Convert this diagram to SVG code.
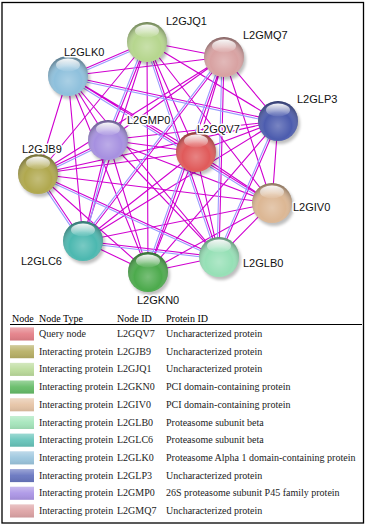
<svg xmlns="http://www.w3.org/2000/svg" width="368" height="529" viewBox="0 0 368 529">
<defs>
<style>
.e{stroke:#d000d0;stroke-width:1.1;fill:none}
.b{stroke:#9a9aff;stroke-width:1.1;fill:none}
.lbl{font-family:"Liberation Sans",Arial,sans-serif;font-size:11px;fill:#111;stroke:#fff;stroke-width:3;stroke-linejoin:round;paint-order:stroke fill}
.t{font-family:"Liberation Serif","Times New Roman",serif;font-size:10px;fill:#222}
.h{font-family:"Liberation Serif","Times New Roman",serif;font-size:10px;fill:#000}
.shade{fill:url(#shade)}
.hi{fill:url(#hi)}
.sh{fill:#000;opacity:0.25;filter:url(#blur)}
.sw{fill:url(#swg)}
</style>
<radialGradient id="shade" cx="0.5" cy="0.62" r="0.62">
<stop offset="0" stop-color="#fff" stop-opacity="0.25"/>
<stop offset="0.55" stop-color="#fff" stop-opacity="0"/>
<stop offset="1" stop-color="#000" stop-opacity="0.42"/>
</radialGradient>
<linearGradient id="hi" x1="0" y1="0" x2="0" y2="1">
<stop offset="0" stop-color="#fff" stop-opacity="0.95"/>
<stop offset="1" stop-color="#fff" stop-opacity="0.05"/>
</linearGradient>
<linearGradient id="swg" x1="0" y1="0" x2="0" y2="1">
<stop offset="0" stop-color="#fff" stop-opacity="0.35"/>
<stop offset="0.5" stop-color="#fff" stop-opacity="0.05"/>
<stop offset="1" stop-color="#000" stop-opacity="0.08"/>
</linearGradient>
<filter id="blur" x="-50%" y="-50%" width="200%" height="200%"><feGaussianBlur stdDeviation="1.5"/></filter>
</defs>
<rect x="2" y="2.5" width="361.5" height="520.5" fill="#fff" stroke="#000" stroke-width="1.3"/>
<g id="connectors">
<path class="e" d="M147,42L224,57M147,42L68,76M147,42L278,121M147,42L108,140M147,42L196,152M147,42L38,174M147,42L272,203M147,42L83,241M147,42L148,272M147,42L219,257"/>
<path class="e" d="M224,57L68,76M224,57L278,121M224,57L108,140M224,57L196,152M224,57L38,174M224,57L272,203M224,57L83,241M224,57L148,272M224,57L219,257"/>
<path class="e" d="M68,76L278,121M68,76L108,140M68,76L196,152M68,76L38,174M68,76L272,203M68,76L83,241M68,76L148,272M68,76L219,257"/>
<path class="e" d="M278,121L108,140M278,121L196,152M278,121L38,174M278,121L272,203M278,121L83,241M278,121L148,272M278,121L219,257"/>
<path class="e" d="M108,140L196,152M108,140L38,174M108,140L272,203M108,140L83,241M108,140L148,272M108,140L219,257"/>
<path class="e" d="M196,152L38,174M196,152L272,203M196,152L83,241M196,152L148,272M196,152L219,257"/>
<path class="e" d="M38,174L272,203M38,174L83,241M38,174L148,272M38,174L219,257"/>
<path class="e" d="M272,203L83,241M272,203L148,272M272,203L219,257"/>
<path class="e" d="M83,241L148,272M83,241L219,257M148,272L219,257"/>
<path class="b" d="M68.8,77.8L147.8,43.8M67.6,78L277.6,123M66.9,77.7L270.9,204.7M145.1,42.6L217.1,257.6M145.1,41.3L106.1,139.3M222,57L217,257M222.4,55.8L81.4,239.8M222.1,56.3L146.1,271.3M276.2,120.2L217.2,256.2M38.9,175.8L108.9,141.8M36.3,175.1L81.3,242.1M37.2,175.8L218.2,258.8M82.8,243L218.8,259M84.9,241.5L109.9,140.5"/>
</g>
<g id="L2GJQ1"><circle class="sh" cx="149" cy="45" r="20"/><circle cx="147" cy="42" r="20" fill="#b6d68e"/><circle class="shade" cx="147" cy="42" r="20"/><ellipse class="hi" cx="147" cy="31" rx="12" ry="6.5"/><text class="lbl" x="166" y="25">L2GJQ1</text></g>
<g id="L2GMQ7"><circle class="sh" cx="226" cy="60" r="20"/><circle cx="224" cy="57" r="20" fill="#d8a2a2"/><circle class="shade" cx="224" cy="57" r="20"/><ellipse class="hi" cx="224" cy="46" rx="12" ry="6.5"/><text class="lbl" x="243" y="39">L2GMQ7</text></g>
<g id="L2GLK0"><circle class="sh" cx="70" cy="79" r="20"/><circle cx="68" cy="76" r="20" fill="#8ec0dc"/><circle class="shade" cx="68" cy="76" r="20"/><ellipse class="hi" cx="68" cy="65" rx="12" ry="6.5"/><text class="lbl" x="64" y="56">L2GLK0</text></g>
<g id="L2GLP3"><circle class="sh" cx="280" cy="124" r="20"/><circle cx="278" cy="121" r="20" fill="#4c5cae"/><circle class="shade" cx="278" cy="121" r="20"/><ellipse class="hi" cx="278" cy="110" rx="12" ry="6.5"/><text class="lbl" x="297" y="103">L2GLP3</text></g>
<g id="L2GMP0"><circle class="sh" cx="110" cy="143" r="20"/><circle cx="108" cy="140" r="20" fill="#a690e0"/><circle class="shade" cx="108" cy="140" r="20"/><ellipse class="hi" cx="108" cy="129" rx="12" ry="6.5"/><text class="lbl" x="127" y="124">L2GMP0</text></g>
<g id="L2GQV7"><circle class="sh" cx="198" cy="155" r="20"/><circle cx="196" cy="152" r="20" fill="#e05a5a"/><circle class="shade" cx="196" cy="152" r="20"/><ellipse class="hi" cx="196" cy="141" rx="12" ry="6.5"/><text class="lbl" x="197" y="133">L2GQV7</text></g>
<g id="L2GJB9"><circle class="sh" cx="40" cy="177" r="20"/><circle cx="38" cy="174" r="20" fill="#b0a84e"/><circle class="shade" cx="38" cy="174" r="20"/><ellipse class="hi" cx="38" cy="163" rx="12" ry="6.5"/><text class="lbl" x="22" y="153">L2GJB9</text></g>
<g id="L2GIV0"><circle class="sh" cx="274" cy="206" r="20"/><circle cx="272" cy="203" r="20" fill="#dcb794"/><circle class="shade" cx="272" cy="203" r="20"/><ellipse class="hi" cx="272" cy="192" rx="12" ry="6.5"/><text class="lbl" x="293" y="211">L2GIV0</text></g>
<g id="L2GLC6"><circle class="sh" cx="85" cy="244" r="20"/><circle cx="83" cy="241" r="20" fill="#4cb8b0"/><circle class="shade" cx="83" cy="241" r="20"/><ellipse class="hi" cx="83" cy="230" rx="12" ry="6.5"/><text class="lbl" x="21" y="265">L2GLC6</text></g>
<g id="L2GKN0"><circle class="sh" cx="150" cy="275" r="20"/><circle cx="148" cy="272" r="20" fill="#4caa4c"/><circle class="shade" cx="148" cy="272" r="20"/><ellipse class="hi" cx="148" cy="261" rx="12" ry="6.5"/><text class="lbl" x="137" y="304">L2GKN0</text></g>
<g id="L2GLB0"><circle class="sh" cx="221" cy="260" r="20"/><circle cx="219" cy="257" r="20" fill="#96e0b6"/><circle class="shade" cx="219" cy="257" r="20"/><ellipse class="hi" cx="219" cy="246" rx="12" ry="6.5"/><text class="lbl" x="243" y="267">L2GLB0</text></g>
<g id="table">
<text class="h" x="12" y="322">Node</text><text class="h" x="39" y="322">Node Type</text><text class="h" x="117" y="322">Node ID</text><text class="h" x="166" y="322">Protein ID</text>
<line x1="10" y1="324.5" x2="362" y2="324.5" stroke="#000" stroke-width="1"/>
<rect x="10" y="327.5" width="24" height="13" fill="#e48088"/><rect class="sw" x="10" y="327.5" width="24" height="13"/>
<text class="t" x="39" y="337">Query node</text><text class="t" x="117" y="337">L2GQV7</text><text class="t" x="166" y="337">Uncharacterized protein</text>
<rect x="10" y="345.2" width="24" height="13" fill="#b8b066"/><rect class="sw" x="10" y="345.2" width="24" height="13"/>
<text class="t" x="39" y="354.7">Interacting protein</text><text class="t" x="117" y="354.7">L2GJB9</text><text class="t" x="166" y="354.7">Uncharacterized protein</text>
<rect x="10" y="362.9" width="24" height="13" fill="#bcdc9c"/><rect class="sw" x="10" y="362.9" width="24" height="13"/>
<text class="t" x="39" y="372.4">Interacting protein</text><text class="t" x="117" y="372.4">L2GJQ1</text><text class="t" x="166" y="372.4">Uncharacterized protein</text>
<rect x="10" y="380.6" width="24" height="13" fill="#66bc68"/><rect class="sw" x="10" y="380.6" width="24" height="13"/>
<text class="t" x="39" y="390.1">Interacting protein</text><text class="t" x="117" y="390.1">L2GKN0</text><text class="t" x="166" y="390.1">PCI domain-containing protein</text>
<rect x="10" y="398.3" width="24" height="13" fill="#e6c4a6"/><rect class="sw" x="10" y="398.3" width="24" height="13"/>
<text class="t" x="39" y="407.8">Interacting protein</text><text class="t" x="117" y="407.8">L2GIV0</text><text class="t" x="166" y="407.8">PCI domain-containing protein</text>
<rect x="10" y="416" width="24" height="13" fill="#a6e6bc"/><rect class="sw" x="10" y="416" width="24" height="13"/>
<text class="t" x="39" y="425.5">Interacting protein</text><text class="t" x="117" y="425.5">L2GLB0</text><text class="t" x="166" y="425.5">Proteasome subunit beta</text>
<rect x="10" y="433.7" width="24" height="13" fill="#66c4ba"/><rect class="sw" x="10" y="433.7" width="24" height="13"/>
<text class="t" x="39" y="443.2">Interacting protein</text><text class="t" x="117" y="443.2">L2GLC6</text><text class="t" x="166" y="443.2">Proteasome subunit beta</text>
<rect x="10" y="451.4" width="24" height="13" fill="#9cc6de"/><rect class="sw" x="10" y="451.4" width="24" height="13"/>
<text class="t" x="39" y="460.9">Interacting protein</text><text class="t" x="117" y="460.9">L2GLK0</text><text class="t" x="166" y="460.9">Proteasome Alpha 1 domain-containing protein</text>
<rect x="10" y="469.1" width="24" height="13" fill="#6876c0"/><rect class="sw" x="10" y="469.1" width="24" height="13"/>
<text class="t" x="39" y="478.6">Interacting protein</text><text class="t" x="117" y="478.6">L2GLP3</text><text class="t" x="166" y="478.6">Uncharacterized protein</text>
<rect x="10" y="486.8" width="24" height="13" fill="#ac96e6"/><rect class="sw" x="10" y="486.8" width="24" height="13"/>
<text class="t" x="39" y="496.3">Interacting protein</text><text class="t" x="117" y="496.3">L2GMP0</text><text class="t" x="166" y="496.3">26S proteasome subunit P45 family protein</text>
<rect x="10" y="504.5" width="24" height="13" fill="#dea4a6"/><rect class="sw" x="10" y="504.5" width="24" height="13"/>
<text class="t" x="39" y="514">Interacting protein</text><text class="t" x="117" y="514">L2GMQ7</text><text class="t" x="166" y="514">Uncharacterized protein</text>
</g>
</svg>
